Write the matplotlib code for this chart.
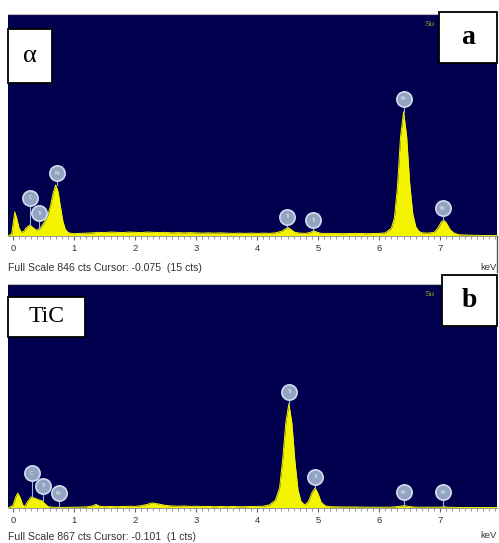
import matplotlib
matplotlib.use("Agg")
import matplotlib.pyplot as plt
from matplotlib.patches import Rectangle
from matplotlib.lines import Line2D

# ---------------- data ----------------
energy_a = [-0.08, -0.02, 0.0, 0.03, 0.06, 0.1, 0.14, 0.18, 0.22, 0.28, 0.34, 0.39, 0.45,
            0.52, 0.58, 0.62, 0.66, 0.70, 0.74, 0.78, 0.82, 0.86, 0.9, 0.95, 1.0, 1.1, 1.2,
            1.3, 1.4, 1.5, 1.6, 1.7, 1.8, 1.9, 2.0, 2.1, 2.2, 2.3, 2.4, 2.5, 2.6, 2.7, 2.8,
            2.9, 3.0, 3.1, 3.2, 3.3, 3.4, 3.5, 3.6, 3.7, 3.8, 3.9, 4.0, 4.1, 4.2, 4.3, 4.4,
            4.47, 4.51, 4.56, 4.62, 4.7, 4.8, 4.87, 4.93, 4.99, 5.05, 5.2, 5.4, 5.6, 5.8,
            6.0, 6.1, 6.2, 6.25, 6.3, 6.35, 6.40, 6.45, 6.5, 6.55, 6.6, 6.65, 6.7, 6.8, 6.9,
            6.96, 7.02, 7.06, 7.1, 7.16, 7.22, 7.3, 7.5, 7.7, 7.93]
counts_a = [0, 8, 40, 92, 70, 30, 14, 18, 32, 42, 30, 22, 30,
            55, 85, 120, 165, 195, 170, 110, 55, 25, 14, 10, 9, 10, 11,
            12, 14, 13, 15, 14, 13, 15, 14, 13, 15, 14, 13, 14, 12, 13, 12,
            13, 12, 11, 12, 11, 12, 11, 10, 11, 10, 11, 10, 11, 10, 12, 18,
            28, 32, 24, 14, 11, 10, 14, 20, 14, 10, 10, 9, 10, 9,
            10, 12, 30, 70, 190, 380, 475, 380, 200, 85, 35, 18, 12, 11, 14,
            30, 55, 60, 50, 25, 12, 5, 3, 2, 2]

energy_b = [-0.08, 0.0, 0.05, 0.08, 0.12, 0.16, 0.2, 0.24, 0.3, 0.36, 0.42, 0.48, 0.53,
            0.58, 0.65, 0.8, 1.0, 1.2, 1.3, 1.36, 1.42, 1.5, 1.6, 1.7, 1.8, 1.9, 2.0, 2.1,
            2.2, 2.28, 2.35, 2.42, 2.5, 2.6, 2.7, 2.8, 2.9, 3.0, 3.1, 3.2, 3.3, 3.4, 3.5,
            3.6, 3.7, 3.8, 3.9, 4.0, 4.1, 4.2, 4.3, 4.37, 4.42, 4.47, 4.52, 4.57, 4.62,
            4.67, 4.72, 4.78, 4.84, 4.9, 4.95, 5.0, 5.05, 5.12, 5.2, 5.4, 5.6, 5.8, 6.0,
            6.2, 6.32, 6.4, 6.48, 6.6, 6.8, 7.0, 7.06, 7.12, 7.3, 7.6, 7.93]
counts_b = [0, 10, 45, 58, 40, 12, 6, 25, 43, 38, 32, 28, 15,
            5, 3, 2, 3, 4, 8, 14, 7, 5, 6, 5, 6, 7, 6, 9,
            14, 20, 17, 14, 10, 8, 7, 8, 6, 7, 6, 6, 5, 6, 5,
            6, 5, 5, 6, 6, 7, 12, 30, 80, 190, 330, 405, 330, 180,
            70, 25, 12, 25, 60, 78, 55, 22, 8, 5, 4, 4, 3, 3,
            3, 6, 9, 6, 3, 3, 3, 5, 3, 2, 2, 2]

full_scale_a = 846
full_scale_b = 867

# peak labels: element, energy (keV), label height (cts), peak height (cts)
lab_el_a = ["C", "Ti", "Fe", "Ti", "Ti", "Fe", "Fe"]
lab_e_a = [0.28, 0.43, 0.72, 4.49, 4.92, 6.40, 7.04]
lab_y_a = [146, 88, 241, 73, 61, 525, 107]
lab_p_a = [42, 28, 195, 32, 20, 475, 60]

lab_el_b = ["C", "Ti", "Fe", "Ti", "Ti", "Fe", "Fe"]
lab_e_b = [0.31, 0.49, 0.75, 4.52, 4.95, 6.40, 7.05]
lab_y_b = [136, 86, 58, 451, 121, 62, 62]
lab_p_b = [43, 30, 3, 405, 78, 9, 5]

tick_vals = [0, 1, 2, 3, 4, 5, 6, 7]
tick_labels = ["0", "1", "2", "3", "4", "5", "6", "7"]

status_a = "Full Scale 846 cts Cursor: -0.075  (15 cts)"
status_b = "Full Scale 867 cts Cursor: -0.101  (1 cts)"

# ---------------- figure ----------------
W, H = 499, 543
fig = plt.figure(figsize=(W / 100, H / 100), dpi=100)
fig.patch.set_facecolor("white")

NAVY = "#00004e"
YEL = "#f4f400"
SANS = ["Liberation Sans", "DejaVu Sans"]


def fx(x):
    return x / W


def fy(y):
    return 1 - y / H


def make_panel(top, bottom, energy, counts, full, el, le, ly, lp, status, ystatus):
    ax = fig.add_axes([fx(8), fy(bottom), fx(497) - fx(8), fy(top) - fy(bottom)])
    ax.set_facecolor(NAVY)
    ax.set_xlim(-0.08, 7.93)
    ax.set_ylim(0, full)
    ax.fill_between(energy, counts, 0, color=YEL, lw=0, zorder=2)
    ax.plot(energy, counts, color=YEL, lw=0.7, zorder=2)
    for s in ["top", "right", "left"]:
        ax.spines[s].set_visible(False)
    ax.spines["bottom"].set_color("#8a8a8a")
    ax.spines["bottom"].set_linewidth(0.6)
    ax.set_yticks([])
    ax.set_xticks(tick_vals)
    ax.set_xticklabels(tick_labels, fontsize=6.8, color="#333333", family=SANS)
    ax.set_xticks([v / 10 for v in range(0, 80)], minor=True)
    ax.tick_params(axis="x", which="major", length=3, width=0.8, color="#666666", pad=3)
    ax.tick_params(axis="x", which="minor", length=2, width=0.6, color="#888888")
    # peak labels
    for e_, y_, p_, t_ in zip(le, ly, lp, el):
        ax.plot([e_, e_], [p_, y_], color="#9fb6d8", lw=0.8, zorder=3)
        ax.plot([e_], [y_], marker="o", ms=11, mfc="#93a4c2", mec="#d0dbee",
                mew=1.2, zorder=4)
        ax.text(e_, y_, t_, fontsize=3.5, color="#eef2fa", ha="center", va="center",
                zorder=5)
    ax.text(0.852, 0.975, "Su", transform=ax.transAxes, fontsize=6, color="#8a9c24",
            ha="left", va="top", family=SANS)
    fig.text(fx(8), fy(ystatus), status, fontsize=7.6, color="#333333",
             family=SANS, ha="left", va="center")
    fig.text(fx(497), fy(ystatus - 1), "keV", fontsize=6.8, color="#333333",
             family=SANS, ha="right", va="center")
    return ax


ax_a = make_panel(15, 236, energy_a, counts_a, full_scale_a, lab_el_a, lab_e_a, lab_y_a,
                  lab_p_a, status_a, 268)
ax_b = make_panel(285, 508, energy_b, counts_b, full_scale_b, lab_el_b, lab_e_b, lab_y_b,
                  lab_p_b, status_b, 537)

# thin frame lines
fig.add_artist(Line2D([fx(8), fx(497)], [fy(14), fy(14)], color="#bbbbbb", lw=0.8))
fig.add_artist(Line2D([fx(8), fx(497)], [fy(284), fy(284)], color="#bbbbbb", lw=0.8))
fig.add_artist(Line2D([fx(497), fx(497)], [fy(236), fy(272)], color="#555555", lw=1.0))


def label_box(x0, y0, x1, y1, text, size, weight="normal"):
    r = Rectangle((fx(x0), fy(y1)), fx(x1) - fx(x0), fy(y0) - fy(y1),
                  transform=fig.transFigure, facecolor="white", edgecolor="black",
                  lw=1.3, zorder=10)
    fig.add_artist(r)
    fig.text(fx((x0 + x1) / 2), fy((y0 + y1) / 2), text, fontsize=size,
             family=["Liberation Serif", "DejaVu Serif"], weight=weight,
             ha="center", va="center", zorder=11)


label_box(8, 29, 52, 83, "α", 19)
label_box(439, 12, 497, 63, "a", 20, "bold")
label_box(8, 297, 85, 337, "TiC", 17)
label_box(442, 275, 497, 326, "b", 20, "bold")

fig.savefig("out.png", dpi=100, facecolor="white")
